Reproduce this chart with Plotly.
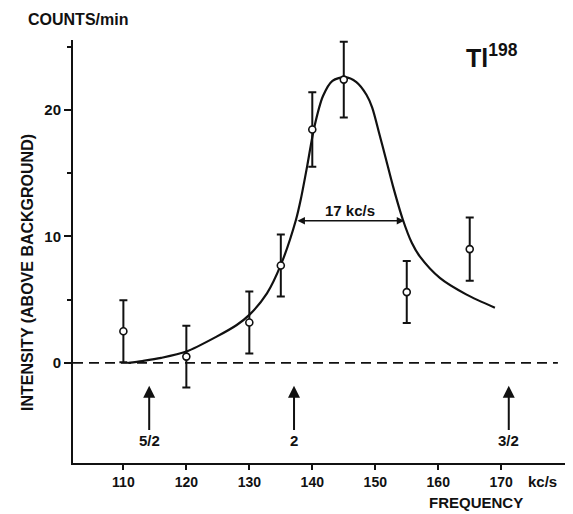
import plotly.graph_objects as go

# measured points
freq = [110, 120, 130, 135, 140, 145, 155, 165]
intensity = [2.5, 0.5, 3.2, 7.7, 18.45, 22.4, 5.6, 9.0]
err = [2.45, 2.45, 2.45, 2.45, 2.95, 3.0, 2.45, 2.5]

# fitted curve
curve_x = [110.8, 113, 116, 120, 124.8, 128, 130, 132.8, 135, 137.4, 138.2, 139.2, 140.3, 141.7,
           143.2, 145.2, 147, 148.6, 149.5, 150.7, 151.6, 152.8, 154.4, 155.8, 157.1, 160.3, 164.5, 169.0]
curve_y = [0.0, 0.15, 0.4, 0.9, 2.08, 3.0, 3.8, 5.5, 7.75, 11.3, 13.0, 15.6, 18.6, 21.1,
           22.3, 22.6, 22.2, 21.2, 20.2, 18.0, 16.3, 14.0, 11.3, 9.5, 8.4, 6.7, 5.4, 4.37]

# background (zero) line
base_x = [102.0, 179.0]
base_y = [0, 0]

# transition markers
trans_x = [114.1, 137.1, 171.2]
trans_labels = ["5/2", "2", "3/2"]
arrow_tip_y = -1.8
label_y = -6.1

# half width
fwhm_left, fwhm_right, fwhm_y = 137.4, 154.6, 11.25
fwhm_label = "17 kc/s"

xticks = [110, 120, 130, 140, 150, 160, 170]
yticks = [0, 10, 20]
yminor = [5, 15, 25]

FONT = "Liberation Sans"
INK = "#111111"

# page offset (body margin) and figure geometry
OFF = 8
W, H = 565, 506
L, R, T, B = 65, 0, 32, 51
pw, ph = W - L - R, H - T - B


def px(xs):
    return (xs - OFF - L) / pw


def py(ys):
    return (H - B - (ys - OFF)) / ph


def bold(size):
    return dict(family=FONT, size=size, color=INK, weight="bold")


fig = go.Figure()
fig.add_trace(go.Scatter(x=base_x, y=base_y, mode="lines",
                         line=dict(color=INK, width=1.8, dash="10px,6px"),
                         hoverinfo="skip", showlegend=False))
fig.add_trace(go.Scatter(x=curve_x, y=curve_y, mode="lines",
                         line=dict(color=INK, width=2.2, shape="spline", smoothing=0.8),
                         showlegend=False))
fig.add_trace(go.Scatter(x=freq, y=intensity, mode="markers",
                         marker=dict(symbol="circle", size=7, color="white",
                                     line=dict(color=INK, width=1.6)),
                         error_y=dict(type="data", array=err, visible=True,
                                      color=INK, thickness=2, width=4),
                         showlegend=False))

annotations = []
for xv, lab in zip(trans_x, trans_labels):
    annotations.append(dict(x=xv, y=arrow_tip_y, ax=xv, ay=label_y,
                            xref="x", yref="y", axref="x", ayref="y",
                            showarrow=True, arrowhead=2, arrowsize=1.2,
                            arrowwidth=2, arrowcolor=INK, text=lab,
                            xanchor="center", yanchor="middle", font=bold(15)))

annotations.append(dict(x=fwhm_right, y=fwhm_y, ax=fwhm_left, ay=fwhm_y,
                        xref="x", yref="y", axref="x", ayref="y",
                        showarrow=True, arrowhead=2, startarrowhead=2,
                        arrowside="end+start", arrowsize=1.0, arrowwidth=1.5,
                        arrowcolor=INK, text=""))
annotations.append(dict(x=(fwhm_left + fwhm_right) / 2, y=fwhm_y, yshift=10,
                        xref="x", yref="y", text=fwhm_label, showarrow=False,
                        xanchor="center", yanchor="middle", font=bold(15)))

paper_texts = [
    ("COUNTS/min", 78, 19, 0, 16),
    ("INTENSITY (ABOVE BACKGROUND)", 27, 273, -90, 16),
    ("FREQUENCY", 476, 503, 0, 15),
    ("kc/s", 542, 481, 0, 15),
    ("Tl<sup>198</sup>", 492, 56, 0, 25),
]
for txt, xs, ys, ang, size in paper_texts:
    annotations.append(dict(x=px(xs), y=py(ys), xref="paper", yref="paper",
                            text=txt, textangle=ang, showarrow=False,
                            xanchor="center", yanchor="middle", font=bold(size)))

fig.update_layout(
    width=W, height=H,
    margin=dict(l=L, r=R, t=T, b=B),
    paper_bgcolor="white", plot_bgcolor="white",
    font=dict(family=FONT, color=INK, size=14),
    xaxis=dict(range=[102.0, 181.4], tickvals=xticks, showgrid=False, zeroline=False,
               showline=True, linecolor=INK, linewidth=2,
               ticks="outside", ticklen=5, tickwidth=2, tickcolor=INK,
               tickfont=bold(14)),
    yaxis=dict(range=[-7.91, 25.53], tickvals=yticks, showgrid=False, zeroline=False,
               showline=True, linecolor=INK, linewidth=2,
               ticks="outside", ticklen=7, tickwidth=2, tickcolor=INK,
               minor=dict(tickvals=yminor, ticks="outside", ticklen=4, tickwidth=2, tickcolor=INK),
               tickfont=bold(15)),
    annotations=annotations,
)

fig.write_html("out.html")
